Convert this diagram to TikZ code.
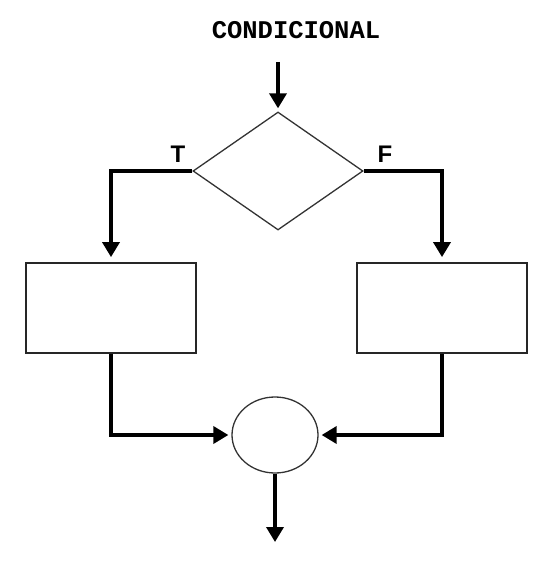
\documentclass[tikz,border=0pt]{standalone}
\usepackage{fontspec}
\newfontfamily\titlefont{Liberation Mono}
\newfontfamily\labelfont{Liberation Sans}
\usetikzlibrary{arrows.meta,shapes.geometric,positioning}

\begin{document}
\begin{tikzpicture}[
    x=1pt, y=-1pt,
    block/.style={draw=black!85, line width=1.8pt, minimum width=170pt, minimum height=90pt, inner sep=0pt},
    decision/.style={diamond, draw=black!80, line width=1.3pt, minimum width=170pt, minimum height=118pt, inner sep=0pt},
    joint/.style={ellipse, draw=black!80, line width=1.3pt, minimum width=86pt, minimum height=76pt, inner sep=0pt},
    arr/.style={-{Triangle[length=15pt,width=17pt]}, line width=3.5pt, shorten >=5pt},
    tflabel/.style={font=\labelfont\bfseries\fontsize{24}{26}\selectfont, inner sep=0pt}
]
\useasboundingbox (0,0) rectangle (556,564);

\node[font=\titlefont\bfseries\fontsize{25.5}{28}\selectfont, inner sep=0pt] (title) at (296,30) {CONDICIONAL};
\coordinate (start) at (278,62);
\node[decision] (dec) at (278,171) {};
\node[block] (boxT) at (111,308) {};
\node[block] (boxF) at (442,308) {};
\node[joint] (join) at (275,435) {};
\coordinate (stop) at (275,542);

\node[tflabel] (lblT) at (178,154) {T};
\node[tflabel] (lblF) at (385,154) {F};

\draw[arr, shorten >=3pt] (start) -- (dec.north);
\draw[arr] (dec.west) -| (boxT.north);
\draw[arr] (dec.east) -| (boxF.north);
\draw[arr, shorten >=3pt] (boxT.south) |- (join.west);
\draw[arr, shorten >=3pt] (boxF.south) |- (join.east);
\draw[arr, shorten >=0pt] (join.south) -- (stop);
\end{tikzpicture}
\end{document}
